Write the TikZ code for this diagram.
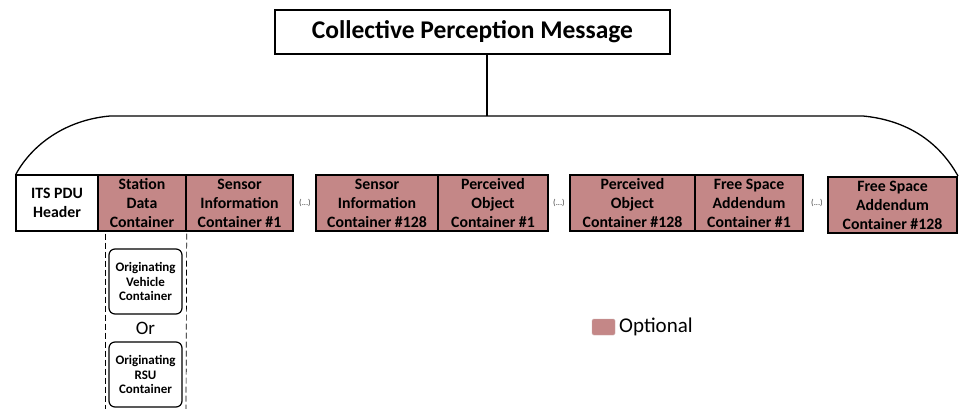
\documentclass[tikz,border=0pt]{standalone}
\usepackage{fontspec}
\setmainfont{Carlito}
\begin{document}
\begin{tikzpicture}[x=1pt,y=-1pt,
  optfill/.style={fill=optcol},
  cbox/.style={draw=black, line width=1.4pt, inner sep=0pt, align=center,
    font=\bfseries\fontsize{15.8}{19}\selectfont},
  subbox/.style={draw=black, line width=1.2pt, rounded corners=6pt, inner sep=0pt,
    align=center, minimum width=73pt, minimum height=65pt,
    font=\bfseries\fontsize{13}{14.5}\selectfont},
  dots/.style={font=\fontsize{8.5}{9}\selectfont, text=black!75, inner sep=0pt},
  bracket/.style={line width=1.3pt},
  sep/.style={dashed, line width=0.7pt, dash pattern=on 6pt off 3pt}
]
\definecolor{optcol}{RGB}{196,135,135}
\useasboundingbox (0,0) rectangle (959,409);

% title
\node[draw=black, line width=1.3pt, minimum width=395pt, minimum height=44pt, inner sep=0pt,
  font=\bfseries\fontsize{25.5}{28}\selectfont] (title) at (472.5,32) {Collective Perception Message};

% bracket
\coordinate (bl) at (110,116);
\coordinate (br) at (863,116);
\coordinate (bm) at (487,116);
\coordinate (blend) at (16,174);
\coordinate (brend) at (958,176);
\draw[bracket] (blend) .. controls (32,145) and (65,120) .. (bl) -- (br)
  .. controls (905,120) and (938,140) .. (brend);
\draw[bracket] (title.south -| bm) -- (bm);

% containers
\node[cbox, minimum width=82pt, minimum height=56pt, fill=white] (hdr) at (57,203) {ITS PDU\\Header};
\node[cbox, optfill, minimum width=88pt, minimum height=56pt] (sdc) at (142,203) {Station\\Data\\Container};
\node[cbox, optfill, minimum width=107pt, minimum height=56pt] (si1) at (239.5,203) {Sensor\\Information\\Container \#1};
\node[dots] (d1) at (305,203) {(...)};
\node[cbox, optfill, minimum width=122pt, minimum height=56pt] (si128) at (377,203) {Sensor\\Information\\Container \#128};
\node[cbox, optfill, minimum width=110pt, minimum height=56pt] (po1) at (493,203) {Perceived\\Object\\Container \#1};
\node[dots] (d2) at (559,203) {(...)};
\node[cbox, optfill, minimum width=125pt, minimum height=56pt] (po128) at (632.5,203) {Perceived\\Object\\Container \#128};
\node[cbox, optfill, minimum width=108pt, minimum height=56pt] (fs1) at (749,203) {Free Space\\Addendum\\Container \#1};
\node[dots] (d3) at (817,203) {(...)};
\node[cbox, optfill, minimum width=129pt, minimum height=56pt] (fs128) at (892.5,205) {Free Space\\Addendum\\Container \#128};

% station data detail
\coordinate (sl) at (105,409);
\coordinate (sr) at (186,409);
\draw[sep] (sdc.south west -| sl) ++(0,2) -- (sl);
\draw[sep] (sdc.south east) ++(0,2) -- (sr);
\node[subbox] (ov) at (145.5,281.5) {Originating\\Vehicle\\Container};
\node[font=\fontsize{19}{20}\selectfont, inner sep=0pt] (or) at (145.5,328) {Or};
\node[subbox] (rsu) at (145.5,374.5) {Originating\\RSU\\Container};

% legend
\node[fill=optcol, draw=optcol!85!black!60, line width=0.4pt, rounded corners=1.5pt,
  minimum width=23pt, minimum height=16pt, inner sep=0pt] (legsq) at (603.5,327) {};
\node[anchor=west, inner sep=0pt, font=\fontsize{21}{24}\selectfont] (legtxt) at (619,327) {Optional};
\end{tikzpicture}
\end{document}
